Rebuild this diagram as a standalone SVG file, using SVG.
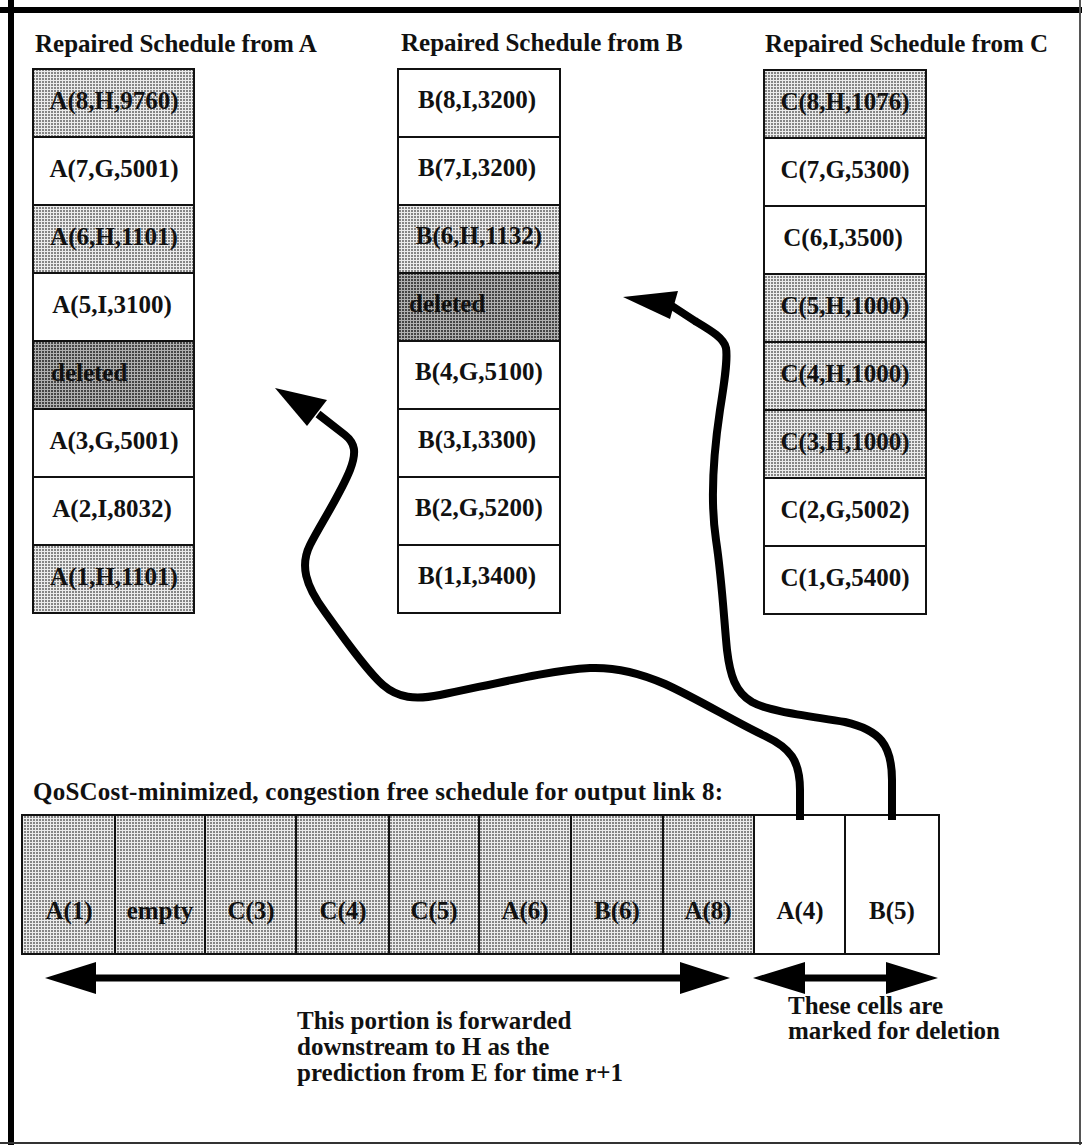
<svg xmlns="http://www.w3.org/2000/svg" width="1082" height="1145" viewBox="0 0 1082 1145">
  <defs>
    <!-- halftone fills for grey and dark cells -->
    <pattern id="ht" width="3" height="3" patternUnits="userSpaceOnUse">
      <rect width="3" height="3" fill="#ebebeb"/>
      <rect width="2" height="2" fill="#858585"/>
    </pattern>
    <pattern id="htDark" width="3" height="3" patternUnits="userSpaceOnUse">
      <rect width="3" height="3" fill="#b0b0b0"/>
      <rect width="2" height="2" fill="#454545"/>
    </pattern>
    <style>
      text { font-family: "Liberation Serif", "Times New Roman", serif; font-weight: bold; font-size: 25px; fill: #111; }
      .c { text-anchor: middle; }
      .cell { fill: #fff; stroke: #111; stroke-width: 2; }
      .g { fill: url(#ht); }
      .d { fill: url(#htDark); }
      .wire { fill: none; stroke: #000; stroke-width: 8; stroke-linejoin: round; }
      .shaft { stroke: #000; stroke-width: 7; }
      .head { fill: #000; }
    </style>
  </defs>

  <rect width="1082" height="1145" fill="#fff"/>

  <!-- page frame -->
  <g id="frame" stroke="#000">
    <line x1="0" y1="10" x2="1082" y2="10" stroke-width="6"/>
    <line x1="11" y1="0" x2="11" y2="1145" stroke-width="6"/>
    <line x1="1080" y1="0" x2="1080" y2="1145" stroke-width="2" stroke="#555"/>
    <line x1="0" y1="1143" x2="1082" y2="1143" stroke-width="2" stroke="#333"/>
  </g>

  <!-- column titles -->
  <text x="35" y="52">Repaired Schedule from A</text>
  <text x="401" y="51">Repaired Schedule from B</text>
  <text x="765" y="52">Repaired Schedule from C</text>

  <!-- schedule from A -->
  <g id="schedA">
    <g id="a8"><rect class="cell g" x="33" y="69" width="161" height="68"/><text class="c" x="114" y="109">A(8,H,9760)</text></g>
    <g id="a7"><rect class="cell" x="33" y="137" width="161" height="68"/><text class="c" x="114" y="177">A(7,G,5001)</text></g>
    <g id="a6"><rect class="cell g" x="33" y="205" width="161" height="68"/><text class="c" x="114" y="245">A(6,H,1101)</text></g>
    <g id="a5"><rect class="cell" x="33" y="273" width="161" height="68"/><text class="c" x="112" y="313">A(5,I,3100)</text></g>
    <g id="aDel"><rect class="cell d" x="33" y="341" width="161" height="68"/><text x="51" y="381">deleted</text></g>
    <g id="a3"><rect class="cell" x="33" y="409" width="161" height="68"/><text class="c" x="114" y="449">A(3,G,5001)</text></g>
    <g id="a2"><rect class="cell" x="33" y="477" width="161" height="68"/><text class="c" x="112" y="517">A(2,I,8032)</text></g>
    <g id="a1"><rect class="cell g" x="33" y="545" width="161" height="68"/><text class="c" x="114" y="585">A(1,H,1101)</text></g>
  </g>

  <!-- schedule from B -->
  <g id="schedB">
    <g id="b8"><rect class="cell" x="398" y="69" width="162" height="68"/><text class="c" x="477" y="108">B(8,I,3200)</text></g>
    <g id="b7"><rect class="cell" x="398" y="137" width="162" height="68"/><text class="c" x="477" y="176">B(7,I,3200)</text></g>
    <g id="b6"><rect class="cell g" x="398" y="205" width="162" height="68"/><text class="c" x="479" y="244">B(6,H,1132)</text></g>
    <g id="bDel"><rect class="cell d" x="398" y="273" width="162" height="68"/><text x="409" y="312">deleted</text></g>
    <g id="b4"><rect class="cell" x="398" y="341" width="162" height="68"/><text class="c" x="479" y="380">B(4,G,5100)</text></g>
    <g id="b3"><rect class="cell" x="398" y="409" width="162" height="68"/><text class="c" x="477" y="448">B(3,I,3300)</text></g>
    <g id="b2"><rect class="cell" x="398" y="477" width="162" height="68"/><text class="c" x="479" y="516">B(2,G,5200)</text></g>
    <g id="b1"><rect class="cell" x="398" y="545" width="162" height="68"/><text class="c" x="477" y="584">B(1,I,3400)</text></g>
  </g>

  <!-- schedule from C -->
  <g id="schedC">
    <g id="c8"><rect class="cell g" x="764" y="70" width="162" height="68"/><text class="c" x="845" y="110">C(8,H,1076)</text></g>
    <g id="c7"><rect class="cell" x="764" y="138" width="162" height="68"/><text class="c" x="845" y="178">C(7,G,5300)</text></g>
    <g id="c6"><rect class="cell" x="764" y="206" width="162" height="68"/><text class="c" x="843" y="246">C(6,I,3500)</text></g>
    <g id="c5"><rect class="cell g" x="764" y="274" width="162" height="68"/><text class="c" x="845" y="314">C(5,H,1000)</text></g>
    <g id="c4"><rect class="cell g" x="764" y="342" width="162" height="68"/><text class="c" x="845" y="382">C(4,H,1000)</text></g>
    <g id="c3"><rect class="cell g" x="764" y="410" width="162" height="68"/><text class="c" x="845" y="450">C(3,H,1000)</text></g>
    <g id="c2"><rect class="cell" x="764" y="478" width="162" height="68"/><text class="c" x="845" y="518">C(2,G,5002)</text></g>
    <g id="c1"><rect class="cell" x="764" y="546" width="162" height="68"/><text class="c" x="845" y="586">C(1,G,5400)</text></g>
  </g>

  <!-- output link schedule -->
  <text x="33" y="800" textLength="690">QoSCost-minimized, congestion free schedule for output link 8:</text>
  <g id="outLink">
    <g id="o1"><rect class="cell g" x="22" y="815" width="93" height="139"/><text class="c" x="69" y="919">A(1)</text></g>
    <g id="o2"><rect class="cell g" x="115" y="815" width="90" height="139"/><text class="c" x="160" y="919">empty</text></g>
    <g id="o3"><rect class="cell g" x="205" y="815" width="91" height="139"/><text class="c" x="251" y="919">C(3)</text></g>
    <g id="o4"><rect class="cell g" x="296" y="815" width="93" height="139"/><text class="c" x="343" y="919">C(4)</text></g>
    <g id="o5"><rect class="cell g" x="389" y="815" width="90" height="139"/><text class="c" x="434" y="919">C(5)</text></g>
    <g id="o6"><rect class="cell g" x="479" y="815" width="92" height="139"/><text class="c" x="525" y="919">A(6)</text></g>
    <g id="o7"><rect class="cell g" x="571" y="815" width="92" height="139"/><text class="c" x="617" y="919">B(6)</text></g>
    <g id="o8"><rect class="cell g" x="663" y="815" width="91" height="139"/><text class="c" x="708" y="919">A(8)</text></g>
    <g id="o9"><rect class="cell" x="754" y="815" width="91" height="139"/><text class="c" x="800" y="919">A(4)</text></g>
    <g id="o10"><rect class="cell" x="845" y="815" width="94" height="139"/><text class="c" x="892" y="919">B(5)</text></g>
  </g>

  <!-- connectors -->
  <g id="connectors">
    <!-- A(4) back to the deleted slot in A -->
    <path class="wire" d="M800,820 L800,790 C800,760 790,748 765,736 C735,722 700,700 665,684 C640,673 615,667 590,668 C550,670 490,685 440,695 C415,700 398,698 383,685 C368,672 345,640 325,612 C305,585 300,565 310,545 C320,525 340,495 350,470 C357,452 355,443 345,435 L318,414"/>
    <polygon class="head" points="275,388 327,400 307,426"/>
    <!-- B(5) back to the deleted slot in B -->
    <path class="wire" d="M892,820 L892,780 C892,745 880,730 845,722 C810,716 770,712 752,702 C735,692 730,675 727,650 C724,620 722,580 716,540 C710,500 714,450 720,410 C724,385 728,360 726,348 C724,338 710,330 695,321 L672,306"/>
    <polygon class="head" points="623,297 678,291 670,319"/>

    <!-- span of forwarded cells -->
    <line class="shaft" x1="90" y1="978" x2="685" y2="978"/>
    <polygon class="head" points="45,978 96,962 96,994"/>
    <polygon class="head" points="730,978 680,962 680,994"/>
    <!-- span of cells marked for deletion -->
    <line class="shaft" x1="800" y1="978" x2="890" y2="978"/>
    <polygon class="head" points="753,978 805,962 805,994"/>
    <polygon class="head" points="938,978 886,962 886,994"/>
  </g>

  <!-- notes -->
  <text x="297" y="1029">This portion is forwarded</text>
  <text x="297" y="1055">downstream to H as the</text>
  <text x="297" y="1081">prediction from E for time r+1</text>
  <text x="788" y="1014">These cells are</text>
  <text x="788" y="1039">marked for deletion</text>
</svg>
